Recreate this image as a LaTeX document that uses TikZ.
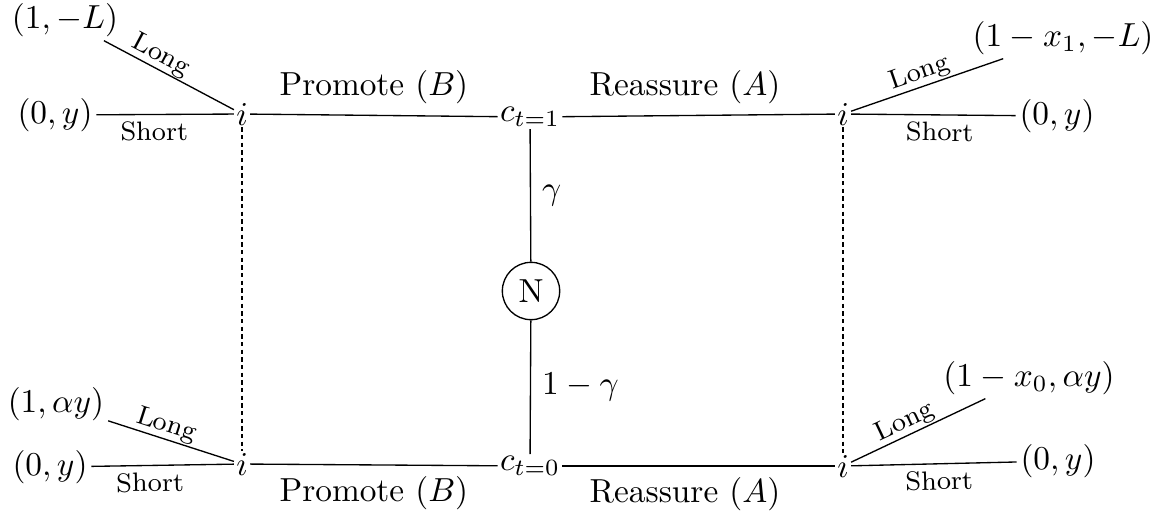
\documentclass[tikz,border=0pt]{standalone}
\usepackage{amsmath}
\begin{document}
\begin{tikzpicture}[x=0.3pt,y=-0.3pt,
  inode/.style={inner sep=0.5pt},
  cnode/.style={inner sep=0.5pt},
  leaf/.style={inner sep=1pt},
  chance/.style={draw,circle,inner sep=2.5pt},
  longlab/.style={sloped,above,inner sep=0.3pt,font=\footnotesize},
  shortlab/.style={sloped,below,inner sep=2pt,font=\footnotesize},
  infoset/.style={dash pattern=on 1.3pt off 1pt}]
\useasboundingbox (0,0) rectangle (1159,512);
% decision nodes
\node[inode] (i1) at (242,114) {$i$};
\node[inode] (i2) at (843,114) {$i$};
\node[inode] (i3) at (242,464) {$i$};
\node[inode] (i4) at (843,466) {$i$};
\node[cnode] (c1) at (530,117) {$c_{t=1}$};
\node[cnode] (c0) at (530,466) {$c_{t=0}$};
\node[chance] (N) at (531,291) {N};
% leaves
\node[leaf] (l1) at (65,20) {$(1,-L)$};
\node[leaf] (l2) at (55,115) {$(0,y)$};
\node[leaf] (l3) at (1063,38) {$(1-x_1,-L)$};
\node[leaf] (l4) at (1057,116) {$(0,y)$};
\node[leaf] (l5) at (56,404) {$(1,\alpha y)$};
\node[leaf] (l6) at (50,467) {$(0,y)$};
\node[leaf] (l7) at (1029,378) {$(1-x_0,\alpha y)$};
\node[leaf] (l8) at (1058,461) {$(0,y)$};
% edges top
\draw (l1) -- node[longlab,pos=0.39]{Long} (i1);
\draw (l2) -- node[shortlab,pos=0.42]{Short} (i1);
\draw (i1) -- node[above]{Promote $(B)$} (c1);
\draw (c1) -- node[above,pos=0.45]{Reassure $(A)$} (i2);
\draw (i2) -- node[longlab,pos=0.48]{Long} (l3);
\draw (i2) -- node[shortlab,pos=0.54]{Short} (l4);
% edges bottom
\draw (l5) -- node[longlab,pos=0.43]{Long} (i3);
\draw (l6) -- node[shortlab,pos=0.41]{Short} (i3);
\draw (i3) -- node[below]{Promote $(B)$} (c0);
\draw (c0) -- node[below,pos=0.45]{Reassure $(A)$} (i4);
\draw (i4) -- node[longlab,pos=0.44]{Long} (l7);
\draw (i4) -- node[shortlab,pos=0.53]{Short} (l8);
% nature
\draw (c1) -- node[right]{$\gamma$} (N);
\draw (N) -- node[right]{$1-\gamma$} (c0);
% information sets
\draw[infoset] (i1) -- (i3);
\draw[infoset] (i2) -- (i4);
\end{tikzpicture}
\end{document}
